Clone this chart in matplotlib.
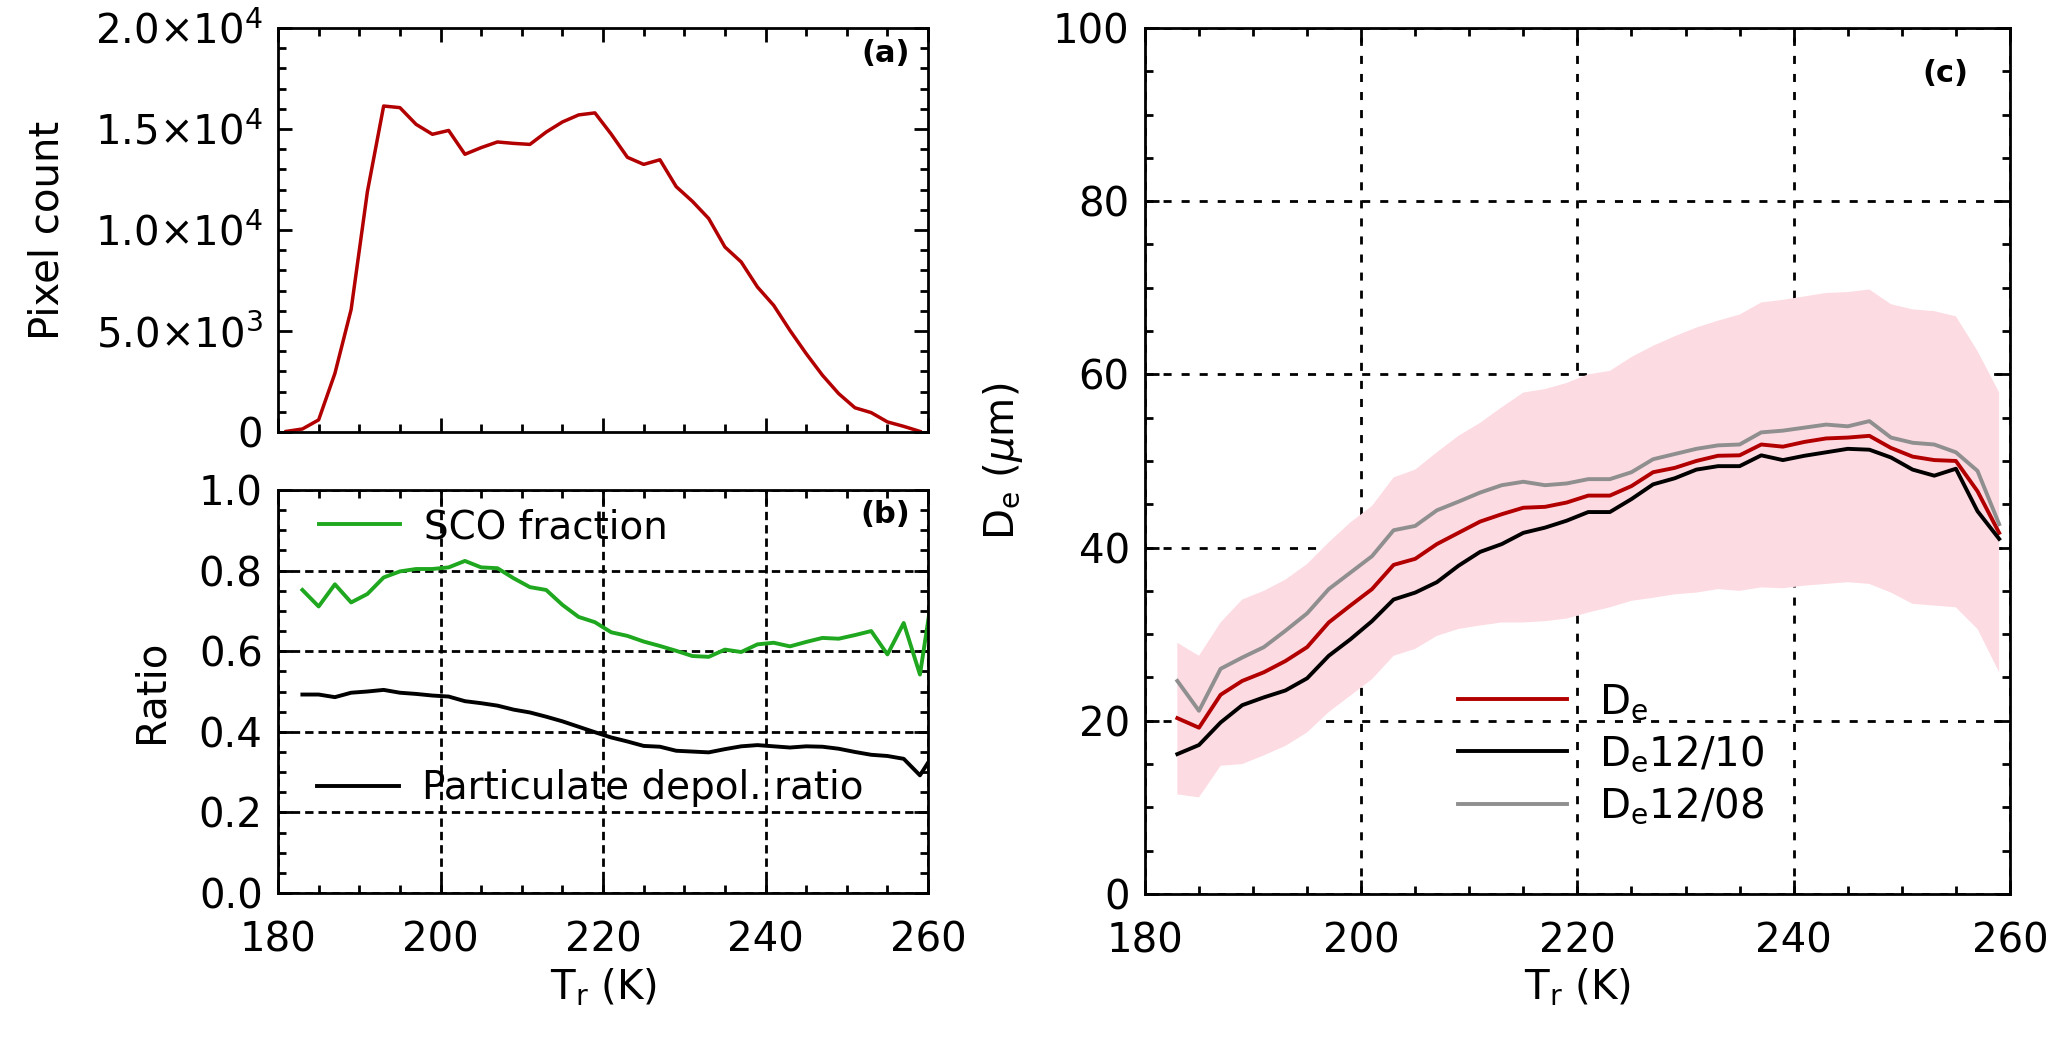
import numpy as np
import matplotlib
matplotlib.use("Agg")
import matplotlib.pyplot as plt
from matplotlib.ticker import MultipleLocator, FixedLocator, FixedFormatter

# temperature bins (K)
temp_a = [181, 183, 185, 187, 189, 191, 193, 195, 197, 199,
          201, 203, 205, 207, 209, 211, 213, 215, 217, 219,
          221, 223, 225, 227, 229, 231, 233, 235, 237, 239,
          241, 243, 245, 247, 249, 251, 253, 255, 257, 259]
temp_b = [183, 185, 187, 189, 191, 193, 195, 197, 199, 201,
          203, 205, 207, 209, 211, 213, 215, 217, 219, 221,
          223, 225, 227, 229, 231, 233, 235, 237, 239, 241,
          243, 245, 247, 249, 251, 253, 255, 257, 259, 261]
temp_c = [183, 185, 187, 189, 191, 193, 195, 197, 199, 201,
          203, 205, 207, 209, 211, 213, 215, 217, 219, 221,
          223, 225, 227, 229, 231, 233, 235, 237, 239, 241,
          243, 245, 247, 249, 251, 253, 255, 257, 259]

# (a) pixel count
pixel_count = [30, 150, 600, 2900, 6070, 11900, 16140, 16060, 15230, 14740,
               14930, 13750, 14080, 14360, 14290, 14240, 14850, 15350, 15700, 15800,
               14750, 13600, 13250, 13480, 12150, 11420, 10570, 9160, 8420, 7180,
               6270, 5030, 3880, 2810, 1900, 1200, 960, 500, 280, 30]

# (b) ratios
sco_fraction = [0.752, 0.711, 0.766, 0.721, 0.742, 0.783, 0.798, 0.804, 0.804, 0.808,
                0.824, 0.808, 0.806, 0.781, 0.759, 0.752, 0.715, 0.685, 0.672, 0.647,
                0.638, 0.624, 0.613, 0.601, 0.588, 0.586, 0.604, 0.598, 0.617, 0.621,
                0.612, 0.623, 0.633, 0.631, 0.640, 0.650, 0.592, 0.670, 0.542, 0.806]
depol_ratio = [0.4925, 0.4925, 0.486, 0.497, 0.500, 0.504, 0.497, 0.494, 0.490, 0.4875,
               0.476, 0.471, 0.465, 0.455, 0.448, 0.4375, 0.426, 0.4125, 0.399, 0.386,
               0.376, 0.365, 0.363, 0.353, 0.351, 0.349, 0.357, 0.364, 0.367, 0.364,
               0.361, 0.364, 0.363, 0.358, 0.350, 0.343, 0.340, 0.333, 0.292, 0.355]

# (c) effective diameter (um)
de_mean = [20.3, 19.2, 23.0, 24.6, 25.6, 26.9, 28.5, 31.35, 33.3, 35.2,
           38.0, 38.7, 40.4, 41.7, 43.0, 43.85, 44.6, 44.7, 45.2, 46.0,
           46.0, 47.1, 48.7, 49.2, 50.0, 50.6, 50.65, 51.9, 51.65, 52.2,
           52.6, 52.7, 52.9, 51.5, 50.5, 50.1, 50.0, 46.5, 41.7]
de_1210 = [16.15, 17.2, 19.8, 21.8, 22.7, 23.5, 24.9, 27.5, 29.4, 31.5,
           34.0, 34.8, 36.0, 37.9, 39.5, 40.4, 41.7, 42.3, 43.1, 44.1,
           44.1, 45.6, 47.3, 48.0, 49.0, 49.4, 49.4, 50.65, 50.1, 50.6,
           51.0, 51.4, 51.3, 50.4, 49.0, 48.3, 49.1, 44.2, 41.0]
de_1208 = [24.6, 21.15, 26.0, 27.3, 28.5, 30.4, 32.4, 35.2, 37.1, 39.0,
           42.0, 42.5, 44.3, 45.3, 46.35, 47.2, 47.6, 47.2, 47.4, 47.9,
           47.9, 48.7, 50.2, 50.8, 51.4, 51.8, 51.9, 53.3, 53.5, 53.85,
           54.2, 54.0, 54.6, 52.7, 52.1, 51.9, 51.0, 48.85, 42.7]
de_upper = [29.0, 27.5, 31.35, 34.0, 35.0, 36.3, 38.1, 40.6, 42.9, 44.8,
            48.1, 49.0, 51.0, 52.9, 54.4, 56.2, 57.9, 58.3, 59.0, 60.0,
            60.4, 62.0, 63.3, 64.4, 65.4, 66.2, 66.9, 68.3, 68.6, 69.0,
            69.4, 69.5, 69.8, 68.1, 67.5, 67.3, 66.7, 62.7, 57.9]
de_lower = [11.5, 11.15, 14.8, 15.0, 16.0, 17.1, 18.65, 21.0, 22.9, 24.8,
            27.5, 28.3, 29.8, 30.6, 31.0, 31.35, 31.35, 31.5, 31.8, 32.5,
            33.1, 33.85, 34.2, 34.6, 34.8, 35.2, 35.0, 35.4, 35.3, 35.6,
            35.8, 36.0, 35.8, 34.8, 33.5, 33.3, 33.1, 30.6, 25.6]

count_ticks = [0, 5000, 10000, 15000, 20000]
count_labels = ['0', '5.0×10$^3$', '1.0×10$^4$', '1.5×10$^4$', '2.0×10$^4$']

RED = '#b20000'
GREEN = '#1fa81f'
GREY = '#8f8f8f'

plt.rcParams['font.family'] = 'DejaVu Sans'
plt.rcParams['mathtext.default'] = 'regular'
plt.rcParams['lines.scale_dashes'] = False
plt.rcParams['axes.linewidth'] = 2.0

fig = plt.figure(figsize=(20.67, 10.43), dpi=100)
ax_a = fig.add_axes([0.1345, 0.5858, 0.3145, 0.3873])
ax_b = fig.add_axes([0.1345, 0.1438, 0.3145, 0.3864])
ax_c = fig.add_axes([0.5539, 0.1429, 0.4185, 0.8303])


def style(ax):
    ax.set_xlim(180, 260)
    ax.xaxis.set_major_locator(MultipleLocator(20))
    ax.xaxis.set_minor_locator(MultipleLocator(5))
    ax.tick_params(which='both', direction='in', top=True, right=True,
                   width=2.0, labelsize=29)
    ax.tick_params(which='major', length=10)
    ax.tick_params(which='minor', length=6)
    ax.tick_params(axis='x', pad=20)
    ax.tick_params(axis='y', pad=11)


# (a)
style(ax_a)
ax_a.plot(temp_a, pixel_count, color=RED, lw=2.5)
ax_a.set_ylim(0, 20000)
ax_a.yaxis.set_major_locator(FixedLocator(count_ticks))
ax_a.yaxis.set_major_formatter(FixedFormatter(count_labels))
ax_a.yaxis.set_minor_locator(MultipleLocator(1000))
ax_a.tick_params(axis='x', labelbottom=False)
ax_a.set_ylabel('Pixel count', fontsize=29, labelpad=20)
ax_a.text(0.934, 0.938, '(a)', transform=ax_a.transAxes, fontsize=22,
          fontweight='bold', ha='center', va='center')

# (b)
style(ax_b)
ax_b.set_axisbelow(True)
ax_b.grid(True, which='major', color='black', lw=2.0, linestyle=(0, (6, 3.6)))
l_sco, = ax_b.plot(temp_b, sco_fraction, color=GREEN, lw=2.8)
l_dep, = ax_b.plot(temp_b, depol_ratio, color='black', lw=2.8)
ax_b.set_ylim(0, 1.0)
ax_b.yaxis.set_major_locator(MultipleLocator(0.2))
ax_b.yaxis.set_minor_locator(MultipleLocator(0.05))
ax_b.yaxis.set_major_formatter(matplotlib.ticker.FormatStrFormatter('%.1f'))
ax_b.set_ylabel('Ratio', fontsize=29, labelpad=20)
ax_b.set_xlabel('T$_r$ (K)', fontsize=29, labelpad=4)
ax_b.text(0.934, 0.938, '(b)', transform=ax_b.transAxes, fontsize=22,
          fontweight='bold', ha='center', va='center')
leg1 = ax_b.legend([l_sco], ['SCO fraction'], loc='center left',
                   bbox_to_anchor=(0.0625, 0.908), frameon=False, fontsize=28,
                   handlelength=2.1, handletextpad=0.6, borderpad=0,
                   borderaxespad=0)
ax_b.add_artist(leg1)
ax_b.legend([l_dep], ['Particulate depol. ratio'], loc='center left',
            bbox_to_anchor=(0.06, 0.26), frameon=False, fontsize=28,
            handlelength=2.1, handletextpad=0.6, borderpad=0, borderaxespad=0)

# (c)
style(ax_c)
ax_c.set_axisbelow(True)
ax_c.grid(True, which='major', color='black', lw=2.0, linestyle=(0, (5.8, 7.2)))
ax_c.fill_between(temp_c, de_lower, de_upper, facecolor='#fddbe3',
                  edgecolor='none', zorder=1)
l_m, = ax_c.plot(temp_c, de_mean, color=RED, lw=2.8, zorder=3)
l_10, = ax_c.plot(temp_c, de_1210, color='black', lw=2.8, zorder=3)
l_08, = ax_c.plot(temp_c, de_1208, color=GREY, lw=2.8, zorder=3)
ax_c.set_ylim(0, 100)
ax_c.yaxis.set_major_locator(MultipleLocator(20))
ax_c.yaxis.set_minor_locator(MultipleLocator(5))
ax_c.set_ylabel(r'D$_e$ ($\mathit{\mu}$m)', fontsize=29, labelpad=20)
ax_c.set_xlabel('T$_r$ (K)', fontsize=29, labelpad=4)
ax_c.text(0.9257, 0.9477, '(c)', transform=ax_c.transAxes, fontsize=22,
          fontweight='bold', ha='center', va='center')
ax_c.legend([l_m, l_10, l_08], ['D$_e$', 'D$_e$12/10', 'D$_e$12/08'],
            loc='center left', bbox_to_anchor=(0.3625, 0.161), frameon=False,
            fontsize=29, handlelength=2.7, handletextpad=0.8,
            labelspacing=0.28, borderpad=0, borderaxespad=0)

fig.savefig('out.png', dpi=100)
